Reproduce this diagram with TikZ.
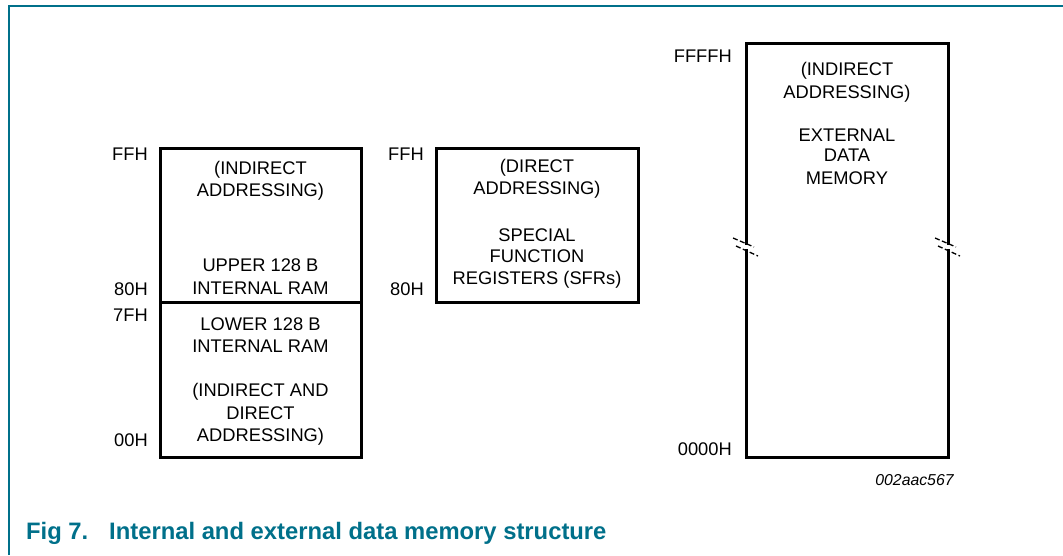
\documentclass[tikz,border=0pt]{standalone}
\usepackage{fontspec}
\setmainfont{Liberation Sans}
\definecolor{nxpteal}{RGB}{0,112,138}
\begin{document}
\begin{tikzpicture}[x=1pt,y=-1pt,
  txt/.style={font=\fontsize{18.3}{22}\selectfont, inner sep=0pt, anchor=base},
  lbl/.style={font=\fontsize{18.3}{22}\selectfont, inner sep=0pt, anchor=base east},
  memline/.style={line width=3pt, line cap=rect},
  brk/.style={line width=1.3pt, dash pattern=on 5pt off 2.5pt},
  frame/.style={nxpteal, line width=2pt},
  captxt/.style={inner sep=0pt, anchor=base west, text=nxpteal, font=\fontsize{23.8}{27}\selectfont\bfseries}]
\useasboundingbox (0,0) rectangle (1063,555);
\draw[frame] (9,555) -- (9,6) -- (1063,6);
% internal RAM box
\draw[memline] (160,148) rectangle (361,457);
\draw[memline] (160,302) -- (361,302);
% SFR box
\draw[memline] (436,148) rectangle (638,302);
% external memory box with breaks
\draw[memline] (746,243.6) -- (746,43) -- (948,43) -- (948,243.6);
\draw[memline] (746,250.5) -- (746,457) -- (948,457) -- (948,250.5);
\foreach \xx in {746,948}{
  \draw[brk] (\xx-13,238) -- (\xx+8,247);
  \draw[brk] (\xx-10,246) -- (\xx+12,256);
}
% internal RAM texts
\node[txt] (a1) at (260.5,174) {(INDIRECT};
\node[txt] (a2) at (260.5,196.7) {ADDRESSING)};
\node[txt] (a3) at (260.5,271.7) {UPPER 128 B};
\node[txt] (a4) at (260.5,294.3) {INTERNAL RAM};
\node[txt] (a5) at (260.5,330.7) {LOWER 128 B};
\node[txt] (a6) at (260.5,352.3) {INTERNAL RAM};
\node[txt] (a7) at (260.5,396.7) {(INDIRECT AND};
\node[txt] (a8) at (260.5,419.3) {DIRECT};
\node[txt] (a9) at (260.5,441) {ADDRESSING)};
% SFR texts
\node[txt] (b1) at (537,172.5) {(DIRECT};
\node[txt] (b2) at (537,194.5) {ADDRESSING)};
\node[txt] (b3) at (537,241.7) {SPECIAL};
\node[txt] (b4) at (537,262.7) {FUNCTION};
\node[txt] (b5) at (537,284) {REGISTERS (SFRs)};
% external texts
\node[txt] (c1) at (847,75.7) {(INDIRECT};
\node[txt] (c2) at (847,98.3) {ADDRESSING)};
\node[txt] (c3) at (847,141) {EXTERNAL};
\node[txt] (c4) at (847,161.7) {DATA};
\node[txt] (c5) at (847,184.3) {MEMORY};
% address labels
\node[lbl] (l1) at (148,160) {FFH};
\node[lbl] (l2) at (148,295.7) {80H};
\node[lbl] (l3) at (148,321.7) {7FH};
\node[lbl] (l4) at (148,446) {00H};
\node[lbl] (l5) at (424,160.7) {FFH};
\node[lbl] (l6) at (424,295) {80H};
\node[lbl] (l7) at (732,62.3) {FFFFH};
\node[lbl] (l8) at (732,455.7) {0000H};
% figure id
\node[txt, font=\fontsize{15.8}{18}\selectfont\itshape] (id) at (914.5,485) {002aac567};
% caption
\node[captxt] (cap1) at (26,539.3) {Fig 7.};
\node[captxt] (cap2) at (109,539.3) {Internal and external data memory structure};
\end{tikzpicture}
\end{document}
